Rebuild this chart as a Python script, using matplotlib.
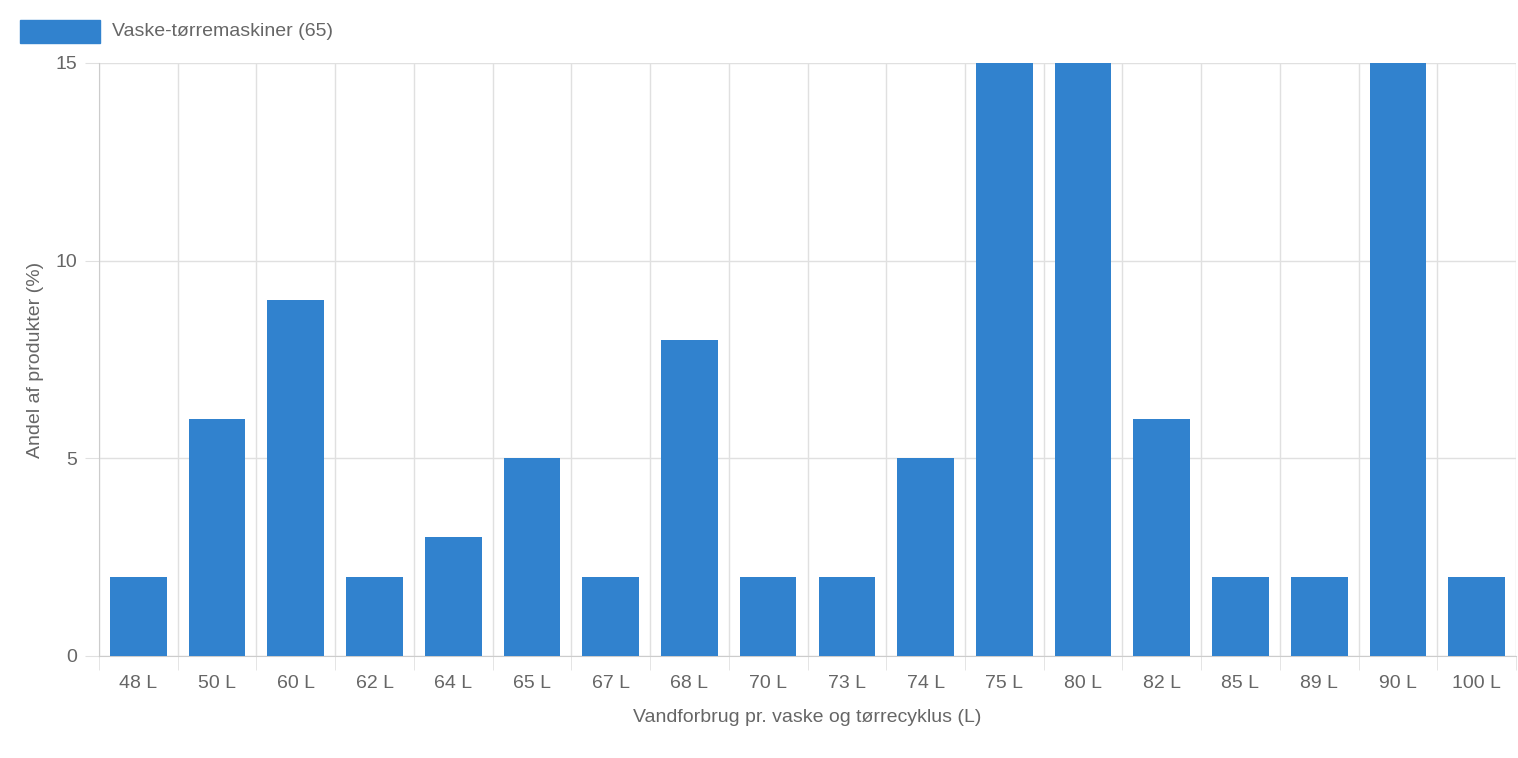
import matplotlib
matplotlib.use("Agg")
import matplotlib.pyplot as plt
import numpy as np
from matplotlib.patches import Rectangle

plt.rcParams['font.family'] = ['Liberation Sans', 'DejaVu Sans']

labels = ["48 L", "50 L", "60 L", "62 L", "64 L", "65 L", "67 L", "68 L", "70 L",
          "73 L", "74 L", "75 L", "80 L", "82 L", "85 L", "89 L", "90 L", "100 L"]
# 75/80/90 L are cut off at the top of the axis in the reference
values = [2, 6, 9, 2, 3, 5, 2, 8, 2, 2, 5, 15, 15, 6, 2, 2, 15, 2]
serie = "Vaske-tørremaskiner (65)"

farve = "#3182ce"
tekst = "#666666"
gitter = "#e0e0e0"

fig = plt.figure(figsize=(15.18, 7.58), dpi=100)
ax = fig.add_axes([0.0652, 0.1346, 0.9335, 0.7823])

x = np.arange(len(labels))
ax.bar(x, values, width=0.72, color=farve, zorder=3)

ax.set_xlim(-0.5, len(labels) - 0.5)
ax.set_ylim(0, 15)
ax.set_xticks(x)
ax.set_xticklabels(labels)
ax.set_xticks(np.arange(len(labels) + 1) - 0.5, minor=True)
ax.set_yticks([0, 5, 10, 15])

ax.tick_params(axis='x', which='major', length=0, pad=14, labelsize=14, labelcolor=tekst)
ax.tick_params(axis='x', which='minor', length=10, color=gitter)
ax.tick_params(axis='y', length=10, color=gitter, pad=6, labelsize=14, labelcolor=tekst)
ax.grid(True, which='minor', axis='x', color=gitter, lw=1, zorder=0)
ax.grid(True, which='major', axis='y', color=gitter, lw=1, zorder=0)

for s in ['top', 'right']:
    ax.spines[s].set_visible(False)
for s in ['left', 'bottom']:
    ax.spines[s].set_color("#cccccc")

ax.set_xlabel("Vandforbrug pr. vaske og tørrecyklus (L)", fontsize=14, color=tekst, labelpad=12)
ax.set_ylabel("Andel af produkter (%)", fontsize=14, color=tekst, labelpad=8)

# legend
fig.patches.append(Rectangle((20 / 1518, 1 - 43 / 758), 80 / 1518, 23 / 758,
                             transform=fig.transFigure, color=farve))
fig.text(112 / 1518, 1 - 32 / 758, serie, fontsize=14, color=tekst, va='center')

fig.savefig("out.png", dpi=100)
